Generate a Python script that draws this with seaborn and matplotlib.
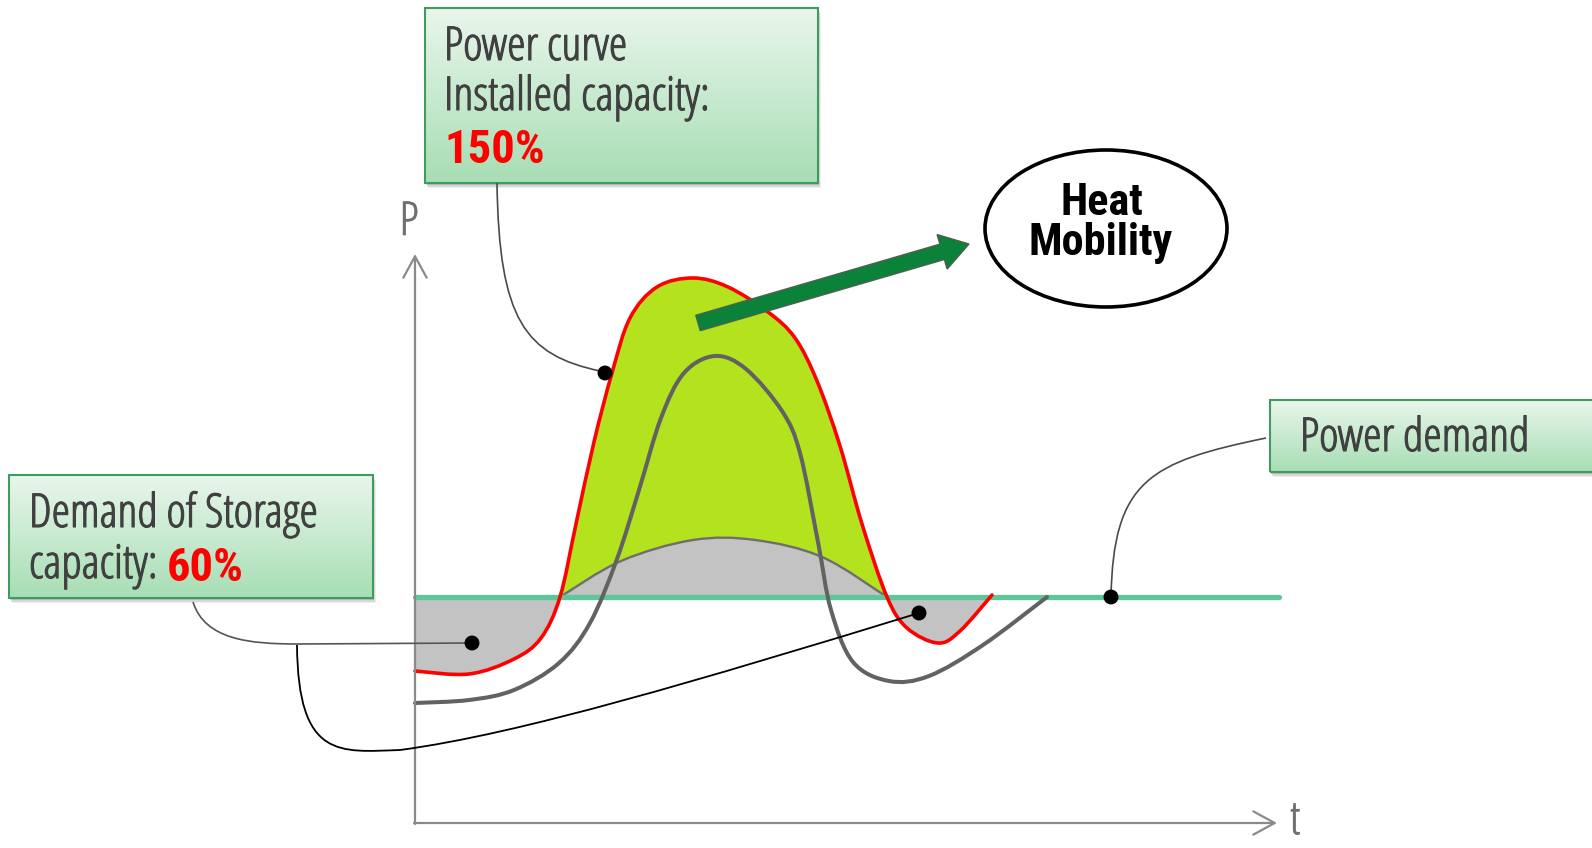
import numpy as np
import matplotlib
matplotlib.use("Agg")
import matplotlib.pyplot as plt
import matplotlib.patheffects as pe
import seaborn as sns
from matplotlib.path import Path
from matplotlib.patches import PathPatch, Rectangle, Ellipse, FancyArrow
from matplotlib.colors import LinearSegmentedColormap
from matplotlib import font_manager
from matplotlib.font_manager import FontProperties
from matplotlib.textpath import TextToPath

# ---- curve data (t: time, P: power; arbitrary units) ----
power_t = [0, 54, 99, 126, 145, 161, 179, 197, 215, 242, 278, 313, 353, 380, 402, 425, 447, 472, 492, 523, 545, 577]
power_p = [152, 149, 164, 185, 226, 299, 381, 450, 505, 536, 545, 536, 511, 485, 442, 377, 299, 226, 195, 180, 192, 228]

base_t = [0, 54, 99, 144, 175, 202, 224, 246, 269, 300, 331, 367, 385, 403, 416, 438, 474, 514, 568, 632]
base_p = [120, 123, 133, 160, 200, 264, 333, 405, 450, 467, 454, 412, 370, 281, 213, 161, 142, 147, 178, 226]

surplus_t = [145, 206, 278, 340, 407, 472]
surplus_p = [226, 262, 283, 283, 266, 226]

demand_level = 226
demand_end = 864

# callout anchor points
anchor_t = [190, 57, 504, 696]
anchor_p = [450, 180, 210, 226]

label_power = ["Power curve", "Installed capacity:", "150%"]
label_storage = ["Demand of Storage", "capacity:", "60%"]
label_demand = "Power demand"
label_use = ["Heat", "Mobility"]

# ---- fonts: pick the most suitable narrow sans face available ----
sns.set_theme(style="white")
t2p = TextToPath()
sans_families = {"Liberation Sans Narrow", "Roboto Condensed", "Noto Sans", "DejaVu Sans", "Roboto",
                 "Liberation Sans", "Lato", "Open Sans", "Inter", "Arimo"}
ttf = font_manager.fontManager.ttflist
combos = sorted({(f.name, str(f.stretch)) for f in ttf if f.name in sans_families})


def measure(family, stretch, weight, s):
    fp = FontProperties(family=family, stretch=stretch, weight=weight, size=100)
    try:
        path = font_manager.findfont(fp, fallback_to_default=False)
    except Exception:
        return None
    entry = next((f for f in ttf if f.fname == path), None)
    if entry is None or entry.name != family:
        return None
    w, _, _ = t2p.get_text_width_height_descent(s, fp, ismath=False)
    _, hc, _ = t2p.get_text_width_height_descent("H", fp, ismath=False)
    return w, hc


def pick_font(sample, target_w, target_cap, weight, w_share=0.5):
    best = None
    for fam, st in combos:
        m = measure(fam, st, weight, sample)
        if m is None:
            continue
        w, hc = m
        score = abs(np.log((w / hc) / (target_w / target_cap)))
        if best is None or score < best[0]:
            best = (score, fam, st, w, hc)
    if best is None:
        return dict(family=["DejaVu Sans"]), 26
    _, fam, st, w, hc = best
    size_w = target_w * 72.0 / w
    size_h = target_cap * 72.0 / hc
    size = size_w ** w_share * size_h ** (1 - w_share)
    return dict(family=[fam, "DejaVu Sans"], stretch=st), size


reg_font, fs = pick_font("Installed capacity:", 274, 31, "normal", w_share=0.7)
bold_font, fs_bold = pick_font("Mobility", 142, 32, "bold")
plt.rcParams["font.family"] = reg_font["family"]

W, H = 1592, 848
X0, Y0 = 415, 823
fig = plt.figure(figsize=(W / 100, H / 100), dpi=100)
ax = fig.add_axes([0, 0, 1, 1])
ax.set_xlim(-X0, W - X0)
ax.set_ylim(-(H - Y0), Y0)
ax.axis("off")


def px(x, y):
    """Layout position given from the top-left corner of the canvas."""
    return (x - X0, Y0 - y)


def solid(color, w=0.8):
    """Slightly heavier strokes for the regular-weight labels."""
    return [pe.Stroke(linewidth=w, foreground=color), pe.Normal()]


def spline(t, p, i0, i1):
    pts = np.column_stack([t, p]).astype(float)
    n = len(pts)
    verts = [pts[i0]]
    for i in range(i0, i1):
        a = pts[max(i - 1, 0)]
        b = pts[i]
        c = pts[i + 1]
        d = pts[min(i + 2, n - 1)]
        verts += [b + (c - a) / 6.0, c - (d - b) / 6.0, c]
    return verts


def curve_codes(n):
    return [Path.MOVETO] + [Path.CURVE4] * (n - 1)


n_pow = len(power_t)
cross = [i for i, v in enumerate(power_p) if v == demand_level]
ia, ib = cross[0], cross[-1]

# surplus above the demand (light green)
red_mid = spline(power_t, power_p, ia, ib)
dome = spline(surplus_t, surplus_p, 0, len(surplus_t) - 1)
verts = red_mid + dome[::-1][1:] + [red_mid[0]]
codes = curve_codes(len(red_mid)) + [Path.CURVE4] * (len(dome) - 1) + [Path.CLOSEPOLY]
ax.add_patch(PathPatch(Path(verts, codes), fc="#b3e31f", ec="none", zorder=1))

# part of the surplus stored (grey dome)
verts = dome + [dome[0]]
codes = curve_codes(len(dome)) + [Path.CLOSEPOLY]
ax.add_patch(PathPatch(Path(verts, codes), fc="#c3c3c3", ec="none", zorder=2))
ax.add_patch(PathPatch(Path(dome, curve_codes(len(dome))), fill=False, ec="#6e6e6e", lw=1.7, zorder=3))

# deficits below the demand (grey)
left = spline(power_t, power_p, 0, ia)
verts = left + [(0, demand_level), left[0]]
codes = curve_codes(len(left)) + [Path.LINETO, Path.CLOSEPOLY]
ax.add_patch(PathPatch(Path(verts, codes), fc="#c3c3c3", ec="none", zorder=2))
right = spline(power_t, power_p, ib, n_pow - 1)
verts = right + [right[0], right[0]]
codes = curve_codes(len(right)) + [Path.LINETO, Path.CLOSEPOLY]
ax.add_patch(PathPatch(Path(verts, codes), fc="#c3c3c3", ec="none", zorder=2))

# demand line
sns.lineplot(x=[0, demand_end], y=[demand_level, demand_level], color="#5ec79a", lw=3.8,
             ax=ax, zorder=4)

# power curves
full_red = spline(power_t, power_p, 0, n_pow - 1)
ax.add_patch(PathPatch(Path(full_red, curve_codes(len(full_red))), fill=False, ec="#ff0000",
                       lw=2.6, zorder=5, capstyle="round"))
full_gray = spline(base_t, base_p, 0, len(base_t) - 1)
ax.add_patch(PathPatch(Path(full_gray, curve_codes(len(full_gray))), fill=False, ec="#626262",
                       lw=2.9, zorder=6, capstyle="round"))

# axes with open arrowheads
axis_col = "#8a8a8a"
ax.annotate("", xy=(0, 569), xytext=(0, -1),
            arrowprops=dict(arrowstyle="->,head_length=0.55,head_width=0.3", color=axis_col,
                            lw=1.6, mutation_scale=28, shrinkA=0, shrinkB=0), zorder=7)
ax.annotate("", xy=(862, 0), xytext=(-1, 0),
            arrowprops=dict(arrowstyle="->,head_length=0.55,head_width=0.3", color=axis_col,
                            lw=1.6, mutation_scale=28, shrinkA=0, shrinkB=0), zorder=7)
ax.text(*px(409, 235), "P", fontsize=fs, color="#6e6e6e", ha="center", va="baseline",
        path_effects=solid("#6e6e6e", 0.5), **reg_font)
ax.text(*px(1290, 846), "t", fontsize=fs, color="#6e6e6e", ha="left", va="bottom",
        path_effects=solid("#6e6e6e", 0.5), **reg_font)

# green arrow and ellipse
ax.add_patch(FancyArrow(*px(698, 323), 271, 79, width=16, head_width=36, head_length=28,
                        length_includes_head=True, fc="#0a8239", ec="#4f5f52", lw=1, zorder=8))
ax.add_patch(Ellipse(px(1106, 228.5), 242, 157, fc="white", ec="black", lw=2.6, zorder=8))
ax.text(*px(1102, 215), label_use[0], fontsize=fs_bold, fontweight="bold", color="black",
        ha="center", va="baseline", zorder=9, **bold_font)
ax.text(*px(1101, 255), label_use[1], fontsize=fs_bold, fontweight="bold", color="black",
        ha="center", va="baseline", zorder=9, **bold_font)

# callout boxes
cmap = LinearSegmentedColormap.from_list("box", ["#e9f6ec", "#a7deb4"])


def callout(x0, y0, x1, y1):
    l, t = px(x0, y0)
    r, b = px(x1, y1)
    for off, a in [(5, 0.06), (3.5, 0.1), (2, 0.14)]:
        ax.add_patch(Rectangle((l + off * 0.6, b - off), r - l, t - b, fc="black", ec="none",
                               alpha=a, zorder=9))
    ax.imshow(np.linspace(0, 1, 64).reshape(-1, 1), extent=(l, r, b, t), cmap=cmap,
              aspect="auto", origin="upper", zorder=10)
    ax.add_patch(Rectangle((l, b), r - l, t - b, fill=False, ec="#3f9c5e", lw=1.5, zorder=11))


txt_col = "#404040"
reg = dict(fontsize=fs, color=txt_col, va="baseline", zorder=12, path_effects=solid(txt_col), **reg_font)
red_bold = dict(fontsize=fs, color="#ff0000", fontweight="bold", zorder=12, **bold_font)

callout(425, 8, 818, 183)
ax.text(*px(444, 60), label_power[0], **reg)
ax.text(*px(444, 110), label_power[1], **reg)
ax.text(*px(444, 163), label_power[2], va="baseline", **red_bold)

callout(9, 475, 373, 598)
ax.text(*px(29, 527), label_storage[0], **reg)
cap = ax.text(*px(29, 578), label_storage[1], **reg)
ax.annotate(label_storage[2], xy=(1, 0), xycoords=cap, xytext=(7, 0), textcoords="offset points",
            va="bottom", **red_bold)

callout(1270, 400, 1610, 472)
ax.text(*px(1300, 451), label_demand, **reg)

ax.set_xlim(-X0, W - X0)
ax.set_ylim(-(H - Y0), Y0)


# connectors
def connector(points, kinds, color, lw):
    verts = [px(*p) for p in points]
    codes = [Path.MOVETO] + kinds
    ax.add_patch(PathPatch(Path(verts, codes), fill=False, ec=color, lw=lw, zorder=13))


C4, L = Path.CURVE4, Path.LINETO
connector([(497, 183), (499, 320), (525, 355), (600, 371)], [C4, C4, C4], "#4a4a4a", 1.2)
connector([(193, 602), (205, 640), (250, 644), (298, 644), (472, 643)], [C4, C4, C4, L], "#555555", 1.2)
connector([(297, 645), (298, 760), (340, 752), (400, 750), (520, 734), (700, 680), (919, 613)],
          [C4, C4, C4, C4, C4, C4], "black", 1.3)
connector([(1266, 438), (1150, 462), (1113, 480), (1111, 598)], [C4, C4, C4], "#4a4a4a", 1.2)

sns.scatterplot(x=anchor_t, y=anchor_p, s=115, color="black", edgecolor="none", ax=ax, zorder=14)

ax.set_xlim(-X0, W - X0)
ax.set_ylim(-(H - Y0), Y0)
fig.savefig("out.png", dpi=100, facecolor="white")
